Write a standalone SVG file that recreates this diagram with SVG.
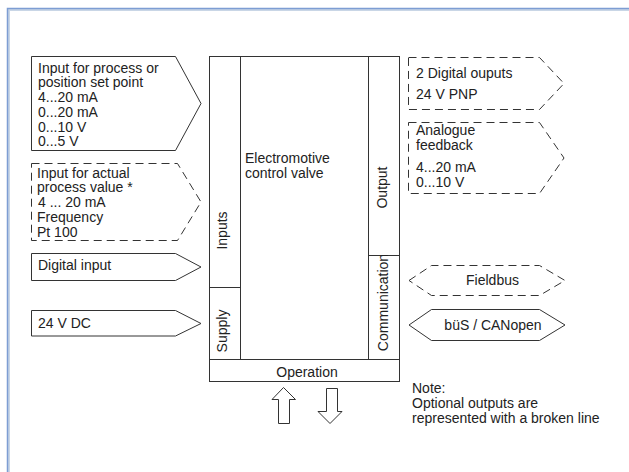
<svg xmlns="http://www.w3.org/2000/svg" width="629" height="472" viewBox="0 0 629 472">
<style>
  text { font-family: "Liberation Sans", Arial, sans-serif; font-size: 14px; fill: #222; }
  .solid { fill: #fff; stroke: #333; stroke-width: 1; }
  .dash { fill: #fff; stroke: #333; stroke-width: 1; stroke-dasharray: 8 5; }
  .line { fill: none; stroke: #333; stroke-width: 1; }
  .mid { text-anchor: middle; }
</style>
<rect x="0" y="0" width="629" height="472" fill="#fff"/>
<g id="frame">
  <path d="M8.5,472 V9.5 H629" fill="none" stroke="#c9d6e6" stroke-width="3"/>
  <path d="M7.5,472 V8.5 H629" fill="none" stroke="#7d9dd3" stroke-width="1.5"/>
</g>

<g id="main-unit">
  <rect class="solid" x="209.5" y="56.5" width="190" height="325"/>
  <line class="line" x1="240.5" y1="56.5" x2="240.5" y2="359.5"/>
  <line class="line" x1="368.5" y1="56.5" x2="368.5" y2="359.5"/>
  <line class="line" x1="209.5" y1="359.5" x2="399.5" y2="359.5"/>
  <line class="line" x1="209.5" y1="287.5" x2="240.5" y2="287.5"/>
  <line class="line" x1="368.5" y1="255.5" x2="399.5" y2="255.5"/>
  <text x="245" y="163">Electromotive</text>
  <text x="245" y="178">control valve</text>
  <text class="mid" transform="translate(227,230.5) rotate(-90)">Inputs</text>
  <text class="mid" transform="translate(227,331) rotate(-90)">Supply</text>
  <text class="mid" transform="translate(387,187.5) rotate(-90)">Output</text>
  <text class="mid" transform="translate(388,302.5) rotate(-90)">Communication</text>
  <text class="mid" x="307" y="377">Operation</text>
</g>

<g id="in-setpoint">
  <path class="solid" d="M31.5,56.5 H175.5 L201,103.5 L175.5,150.5 H31.5 Z"/>
  <text x="38" y="72.5">Input for process or</text>
  <text x="38" y="87">position set point</text>
  <text x="38" y="102">4...20 mA</text>
  <text x="38" y="117">0...20 mA</text>
  <text x="38" y="131.5">0...10 V</text>
  <text x="38" y="146">0...5 V</text>
</g>

<g id="in-actual">
  <path class="dash" d="M31.5,163.5 H177.5 L201,202 L177.5,240.5 H31.5 Z"/>
  <text x="37" y="177.5">Input for actual</text>
  <text x="37" y="192.3">process value *</text>
  <text x="38" y="207.1">4 ... 20 mA</text>
  <text x="37" y="221.9">Frequency</text>
  <text x="37" y="237">Pt 100</text>
</g>

<g id="in-digital">
  <path class="solid" d="M31.5,253.5 H175.5 L201,267 L175.5,280.5 H31.5 Z"/>
  <text x="38" y="270">Digital input</text>
</g>

<g id="in-supply">
  <path class="solid" d="M31.5,310.5 H175.5 L201,323.5 L175.5,336 H31.5 Z"/>
  <text x="38" y="328">24 V DC</text>
</g>

<g id="out-digital">
  <path class="dash" d="M408.5,57.5 H539.5 L564,83.5 L539.5,109.5 H408.5 Z"/>
  <text x="416" y="78">2 Digital ouputs</text>
  <text x="416" y="99">24 V PNP</text>
</g>

<g id="out-analogue">
  <path class="dash" d="M408.5,122.5 H539.5 L564,158 L539.5,193.5 H408.5 Z"/>
  <text x="416" y="135">Analogue</text>
  <text x="416" y="150">feedback</text>
  <text x="416" y="171.5">4...20 mA</text>
  <text x="416" y="187">0...10 V</text>
</g>

<g id="fieldbus">
  <path class="dash" d="M409,280.5 L431.5,265.5 H539.5 L565,280.5 L539.5,295.5 H431.5 Z"/>
  <text class="mid" x="492.5" y="285">Fieldbus</text>
</g>

<g id="bus-canopen">
  <path class="solid" d="M409,325 L431.5,309.5 H539.5 L565,325 L539.5,340.5 H431.5 Z"/>
  <text class="mid" x="493" y="330">büS / CANopen</text>
</g>

<g id="connectors">
  <path class="solid" d="M283.5,387.5 L295.5,399.5 H289.5 V423.5 H278.5 V399.5 H272 Z"/>
  <path class="solid" d="M326.5,388.5 H337.5 V411.5 H342 L330,423.5 L318,411.5 H326.5 Z"/>
</g>

<g id="note">
  <text x="412" y="393">Note:</text>
  <text x="412" y="408">Optional outputs are</text>
  <text x="412" y="423">represented with a broken line</text>
</g>
</svg>
